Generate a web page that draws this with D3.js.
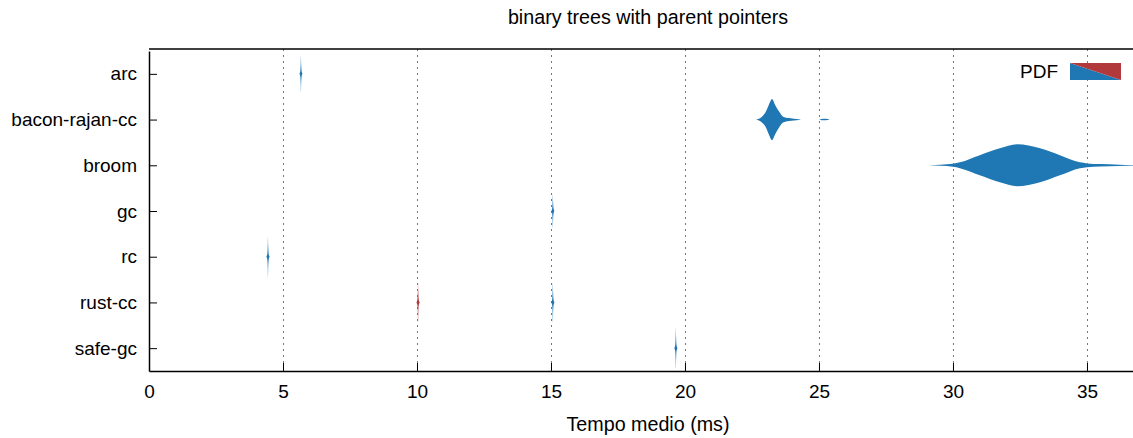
<!DOCTYPE html>
<html>
<head>
<meta charset="utf-8">
<script src="https://cdn.jsdelivr.net/npm/d3@7"></script>
<style>
  body { margin: 0; background: #fff; }
  text { font-family: "Liberation Sans", Arial, Helvetica, sans-serif; fill: #000; }
</style>
</head>
<body>
<div id="chart"></div>
<script>
// Chart data
const title = "binary trees with parent pointers";
const xLabel = "Tempo medio (ms)";
const categories = ["arc", "bacon-rajan-cc", "broom", "gc", "rc", "rust-cc", "safe-gc"];
const xTicks = [0, 5, 10, 15, 20, 25, 30, 35];

// PDF estimates (time in ms, relative density)
const arcTime = [5.61, 5.645, 5.662, 5.67, 5.678, 5.695, 5.73];
const arcDensity = [0, 0.12, 0.5, 0.86, 0.5, 0.12, 0];
const baconTime = [22.65, 22.87, 23.02, 23.13, 23.25, 23.36, 23.51, 23.66, 23.88, 24.25, 24.4, 25.0, 25.1, 25.25, 25.4];
const baconDensity = [0, 0.14, 0.38, 0.71, 0.98, 0.71, 0.38, 0.14, 0.07, 0.015, 0, 0, 0.03, 0.035, 0];
const broomTime = [29.1, 30.0, 30.26, 31.0, 31.75, 32.39, 33.25, 33.99, 34.74, 35.0, 35.49, 36.2, 36.72, 37.35];
const broomDensity = [0, 0.07, 0.14, 0.48, 0.81, 1, 0.81, 0.48, 0.14, 0.09, 0.06, 0.03, 0.015, 0];
const gcTime = [15.01, 15.045, 15.062, 15.07, 15.078, 15.095, 15.13];
const gcDensity = [0, 0.12, 0.48, 0.81, 0.48, 0.12, 0];
const rcTime = [4.38, 4.415, 4.432, 4.44, 4.448, 4.465, 4.50];
const rcDensity = [0, 0.14, 0.55, 0.95, 0.55, 0.14, 0];
const rustRedTime = [9.98, 10.015, 10.032, 10.04, 10.048, 10.065, 10.10];
const rustRedDensity = [0, 0.14, 0.55, 0.95, 0.55, 0.14, 0];
const rustBlueTime = [15.01, 15.045, 15.062, 15.07, 15.078, 15.095, 15.13];
const rustBlueDensity = [0, 0.14, 0.55, 0.95, 0.55, 0.14, 0];
const safeTime = [19.60, 19.635, 19.652, 19.66, 19.668, 19.685, 19.72];
const safeDensity = [0, 0.14, 0.56, 0.97, 0.56, 0.14, 0];

const blue = "#1f78b4";
const red = "#b2393b";

const violins = [
  { cat: "arc", time: arcTime, dens: arcDensity, color: blue },
  { cat: "bacon-rajan-cc", time: baconTime, dens: baconDensity, color: blue },
  { cat: "broom", time: broomTime, dens: broomDensity, color: blue },
  { cat: "gc", time: gcTime, dens: gcDensity, color: blue },
  { cat: "rc", time: rcTime, dens: rcDensity, color: blue },
  { cat: "rust-cc", time: rustRedTime, dens: rustRedDensity, color: red },
  { cat: "rust-cc", time: rustBlueTime, dens: rustBlueDensity, color: blue },
  { cat: "safe-gc", time: safeTime, dens: safeDensity, color: blue }
];

// Dimensions
const width = 1133;
const height = 438;
const margin = { top: 49, right: -14, bottom: 67, left: 149 };

const svg = d3.select("#chart")
  .append("svg")
  .attr("width", width)
  .attr("height", height);

const xScale = d3.scaleLinear()
  .domain([0, 37.24])
  .range([margin.left, width - margin.right]);

const yScale = d3.scalePoint()
  .domain(categories)
  .range([margin.top + 2, height - margin.bottom])
  .padding(0.5);

const halfScale = d3.scaleLinear().domain([0, 1]).range([0, 21]);

// Grid lines
svg.append("g")
  .selectAll("line")
  .data(xTicks.filter(d => d > 0))
  .join("line")
  .attr("x1", d => xScale(d) + 0.5)
  .attr("x2", d => xScale(d) + 0.5)
  .attr("y1", margin.top)
  .attr("y2", height - margin.bottom)
  .attr("stroke", "#777")
  .attr("stroke-width", 1)
  .attr("stroke-dasharray", "2,4");

// Violins
const area = d3.area()
  .curve(d3.curveMonotoneX);

violins.forEach(v => {
  const cy = yScale(v.cat);
  const pts = v.time.map((t, i) => [t, v.dens[i]]);
  svg.append("path")
    .datum(pts)
    .attr("fill", v.color)
    .attr("d", area
      .x(d => xScale(d[0]))
      .y0(d => cy + halfScale(d[1]))
      .y1(d => cy - halfScale(d[1])));
});

// Axes
const xAxis = d3.axisBottom(xScale).tickValues(xTicks).tickSizeInner(-8).tickSizeOuter(0).tickPadding(14);
const gx = svg.append("g")
  .attr("transform", `translate(0,${height - margin.bottom})`)
  .call(xAxis);
gx.select(".domain").attr("stroke", "#000").attr("stroke-width", 1.5);
gx.selectAll(".tick line").attr("stroke", "#000");
gx.selectAll("text").style("font-size", "19px").attr("fill", "#000");

const yAxis = d3.axisLeft(yScale).tickSizeInner(-8).tickSizeOuter(0).tickPadding(12);
const gy = svg.append("g")
  .attr("transform", `translate(${margin.left},0)`)
  .call(yAxis);
gy.select(".domain").attr("stroke", "#000").attr("stroke-width", 1.5);
gy.selectAll(".tick line").attr("stroke", "#000");
gy.selectAll("text").style("font-size", "19px").attr("fill", "#000");

// Top border
svg.append("line")
  .attr("x1", margin.left)
  .attr("x2", width)
  .attr("y1", margin.top)
  .attr("y2", margin.top)
  .attr("stroke", "#000")
  .attr("stroke-width", 1.5);

// Title and axis label
const cx = (margin.left + xScale.range()[1]) / 2;
svg.append("text")
  .attr("x", cx)
  .attr("y", 24)
  .attr("text-anchor", "middle")
  .style("font-size", "19.7px")
  .text(title);

svg.append("text")
  .attr("x", cx)
  .attr("y", 431)
  .attr("text-anchor", "middle")
  .style("font-size", "19.7px")
  .text(xLabel);

// Legend
const lg = svg.append("g").attr("transform", "translate(1070,63)");
lg.append("text")
  .attr("x", -12)
  .attr("y", 15)
  .attr("text-anchor", "end")
  .style("font-size", "19px")
  .text("PDF");
lg.append("path").attr("d", "M0,0L51,17L0,17Z").attr("fill", blue);
lg.append("path").attr("d", "M0,0L51,0L51,17Z").attr("fill", red);
</script>
</body>
</html>
